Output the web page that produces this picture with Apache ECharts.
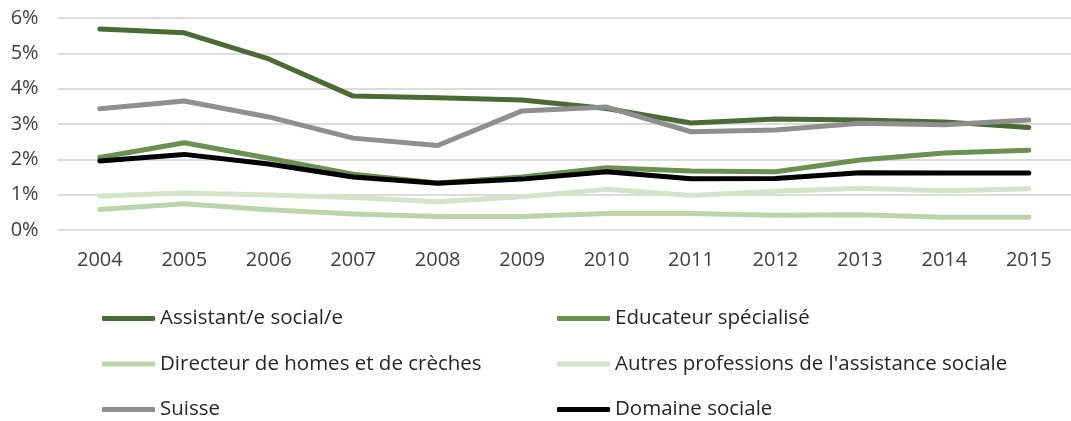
<!DOCTYPE html>
<html>
<head>
<meta charset="utf-8">
<script src="https://cdn.jsdelivr.net/npm/echarts@6/dist/echarts.min.js"></script>
<style>
    html, body {margin: 0; padding: 0; background: #fff;}
    #eCharts {width: 1071px; height: 421px;}
</style>
</head>
<body>
<div id="eCharts"></div>
<script>
var years = ['2004', '2005', '2006', '2007', '2008', '2009', '2010', '2011', '2012', '2013', '2014', '2015'];

// valeurs en %
var assistant = [5.69, 5.58, 4.84, 3.79, 3.74, 3.68, 3.44, 3.03, 3.14, 3.11, 3.06, 2.90];
var educateur = [2.05, 2.47, 2.03, 1.58, 1.33, 1.50, 1.76, 1.67, 1.65, 1.98, 2.18, 2.26];
var directeur = [0.58, 0.74, 0.57, 0.45, 0.38, 0.38, 0.47, 0.47, 0.42, 0.43, 0.36, 0.36];
var autres = [0.96, 1.05, 0.99, 0.92, 0.80, 0.94, 1.15, 0.98, 1.10, 1.18, 1.11, 1.17];
var suisse = [3.43, 3.65, 3.20, 2.60, 2.39, 3.37, 3.48, 2.78, 2.83, 3.02, 2.98, 3.11];
var domaine = [1.95, 2.14, 1.87, 1.50, 1.32, 1.44, 1.65, 1.45, 1.46, 1.62, 1.61, 1.61];

var yTicks = [0, 1, 2, 3, 4, 5, 6];

var fontName = 'Open Sans';

function serie(name, data, color) {
    return {
        name: name,
        type: 'line',
        data: data,
        symbol: 'none',
        lineStyle: {width: 5, color: color, cap: 'round', join: 'round'},
        itemStyle: {color: color}
    };
}

var myChart = echarts.init(document.getElementById('eCharts'));

var legendBase = {
    orient: 'vertical',
    top: 308,
    height: 140,
    padding: 0,
    itemWidth: 53,
    itemHeight: 5,
    itemGap: 24.5,
    icon: 'roundRect',
    textStyle: {fontFamily: fontName, fontSize: 20.5, lineHeight: 20, color: '#262626'}
};

option = {
    animation: false,
    grid: {left: 57.6, top: 18, width: 1017.6, height: 212},
    legend: [
        Object.assign({}, legendBase, {left: 102, data: ['Assistant/e social/e', 'Directeur de homes et de crèches', 'Suisse']}),
        Object.assign({}, legendBase, {left: 557, data: ['Educateur spécialisé', "Autres professions de l'assistance sociale", 'Domaine sociale']})
    ],
    xAxis: {
        type: 'category',
        data: years,
        boundaryGap: true,
        axisLine: {show: false},
        axisTick: {show: false},
        axisLabel: {fontFamily: fontName, fontSize: 20, color: '#404040', margin: 20}
    },
    yAxis: {
        type: 'value',
        min: yTicks[0],
        max: yTicks[yTicks.length - 1],
        interval: 1,
        axisLine: {show: false},
        axisTick: {show: false},
        axisLabel: {fontFamily: fontName, fontSize: 20, color: '#404040', margin: 19, formatter: '{value}%'},
        splitLine: {lineStyle: {color: '#dcdcdc', width: 2}}
    },
    series: [
        serie('Assistant/e social/e', assistant, '#4b6b35'),
        serie('Educateur spécialisé', educateur, '#6a9150'),
        serie('Directeur de homes et de crèches', directeur, '#b9d5a9'),
        serie("Autres professions de l'assistance sociale", autres, '#d4e4c8'),
        serie('Suisse', suisse, '#8f8f8f'),
        serie('Domaine sociale', domaine, '#000000')
    ]
};

myChart.setOption(option);
</script>
</body>
</html>
